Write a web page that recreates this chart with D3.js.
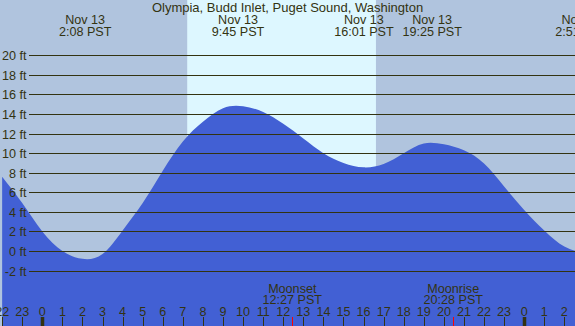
<!DOCTYPE html>
<html>
<head>
<meta charset="utf-8">
<script src="https://cdn.jsdelivr.net/npm/d3@7"></script>
<style>
  body { margin: 0; padding: 0; }
  svg { display: block; font-family: "Liberation Sans", Arial, sans-serif; font-size: 12.6px; }
</style>
</head>
<body>
<script>
var title = "Olympia, Budd Inlet, Puget Sound, Washington";

// tide height (ft), one per hour, hour -2 (22:00 Nov 12) .. 27 (03:00 Nov 14)
var hours   = [-2, -1, 0, 1, 2, 3, 4, 5, 6, 7, 8, 9, 10, 11, 12, 13, 14, 15, 16, 17, 18, 19, 20, 21, 22, 23, 24, 25, 26, 27];
var heights = [7.6, 4.9, 2.0, 0.0, -0.8, -0.3, 2.1, 4.9, 8.2, 11.2, 13.2, 14.6, 14.8, 14.2, 13.0, 11.5, 10.0, 9.0, 8.55, 8.9, 10.0, 11.0, 10.9, 10.3, 8.95, 6.6, 4.2, 2.1, 0.45, -0.2];

// high / low tide labels
var tideTimes  = [2 + 8/60, 9 + 45/60, 16 + 1/60, 19 + 25/60, 26 + 51/60];
var tideLabels = ["2:08 PST", "9:45 PST", "16:01 PST", "19:25 PST", "2:51 PST"];
var tideDates  = ["Nov 13", "Nov 13", "Nov 13", "Nov 13", "Nov 14"];

// moon events
var moonTimes  = [12 + 27/60, 20 + 28/60];
var moonNames  = ["Moonset", "Moonrise"];
var moonLabels = ["12:27 PST", "20:28 PST"];

// daylight
var sunrise = 7 + 13/60;
var sunset  = 16 + 37/60;

var yTicks = [-2, 0, 2, 4, 6, 8, 10, 12, 14, 16, 18, 20];

var width = 575, height = 326;
var textCol = "#333311";

var x = d3.scaleLinear().domain([-2.107, 26.53]).range([0, width]);
var y = d3.scaleLinear().domain([-2, 20]).range([270.6, 55.3]);

var svg = d3.select("body").append("svg")
    .attr("width", width)
    .attr("height", height);

// night background, then daylight band
svg.append("rect").attr("x", 0).attr("y", 0).attr("width", width).attr("height", height).attr("fill", "#b0c4de");
svg.append("rect")
    .attr("x", x(sunrise)).attr("y", 0)
    .attr("width", x(sunset) - x(sunrise)).attr("height", height)
    .attr("fill", "#ddf7ff");

var data = hours.map(function(h, i) { return { h: h, v: heights[i] }; });

var area = d3.area()
    .x(function(d) { return x(d.h); })
    .y0(height)
    .y1(function(d) { return y(d.v); })
    .curve(d3.curveNatural);

svg.append("path").attr("d", area(data)).attr("fill", "#4260d4");

// grid lines + labels
var grid = svg.append("g");
yTicks.forEach(function(t) {
  var yy = Math.round(y(t)) + 0.5;
  grid.append("line")
      .attr("x1", 29).attr("x2", width)
      .attr("y1", yy).attr("y2", yy)
      .attr("stroke", textCol).attr("stroke-width", 1);
  grid.append("text")
      .attr("x", 26.5).attr("y", yy).attr("dy", "0.35em")
      .attr("text-anchor", "end").attr("fill", textCol)
      .text(t + " ft");
});

// title
svg.append("text").attr("x", width / 2).attr("y", 12)
    .attr("text-anchor", "middle").attr("fill", textCol)
    .style("font-size", "13px").text(title);

// tide labels
tideTimes.forEach(function(t, i) {
  var g = svg.append("g").attr("fill", textCol).attr("text-anchor", "middle");
  g.append("text").attr("x", x(t)).attr("y", 24).text(tideDates[i]);
  g.append("text").attr("x", x(t)).attr("y", 36).text(tideLabels[i]);
});

// moon labels
moonTimes.forEach(function(t, i) {
  var g = svg.append("g").attr("fill", textCol).attr("text-anchor", "middle");
  g.append("text").attr("x", x(t)).attr("y", 292.5).text(moonNames[i]);
  g.append("text").attr("x", x(t)).attr("y", 304).text(moonLabels[i]);
  svg.append("line")
      .attr("x1", Math.round(x(t)) + 0.5).attr("x2", Math.round(x(t)) + 0.5)
      .attr("y1", 317).attr("y2", height)
      .attr("stroke", "#ff0000");
});

// hour axis
var hourTicks = d3.range(-2, 27);
hourTicks.forEach(function(h) {
  var xx = Math.round(x(h)) + 0.5;
  var mid = ((h % 24) + 24) % 24 === 0;
  svg.append("line")
      .attr("x1", xx).attr("x2", xx)
      .attr("y1", 317).attr("y2", height)
      .attr("stroke", textCol).attr("stroke-width", mid ? 3.5 : 1);
  svg.append("text")
      .attr("x", x(h)).attr("y", 315.5)
      .attr("text-anchor", "middle").attr("fill", textCol)
      .text(((h % 24) + 24) % 24);
});
</script>
</body>
</html>
